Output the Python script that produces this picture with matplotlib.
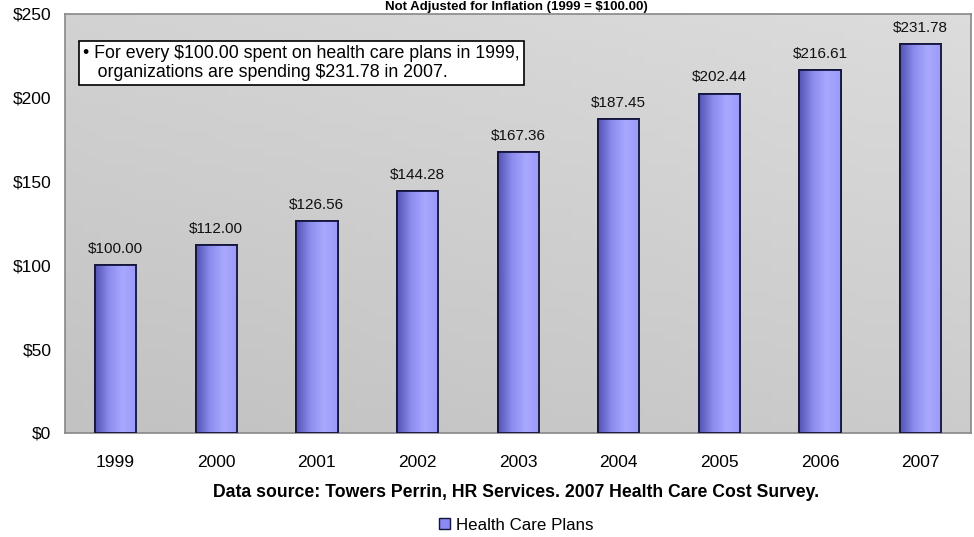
import numpy as np
import matplotlib.pyplot as plt
from matplotlib.colors import LinearSegmentedColormap
from matplotlib.patches import Patch

plt.rcParams['font.family'] = ['Liberation Sans', 'DejaVu Sans']

years = ['1999', '2000', '2001', '2002', '2003', '2004', '2005', '2006', '2007']
costs = [100.00, 112.00, 126.56, 144.28, 167.36, 187.45, 202.44, 216.61, 231.78]
yticks = [0, 50, 100, 150, 200, 250]

fig = plt.figure(figsize=(9.74, 5.37), dpi=100)
ax = fig.add_axes([0.067, 0.194, 0.930, 0.780])

x = np.arange(len(years))
ax.set_xlim(-0.5, len(years) - 0.5)

# gray backdrop, a bit lighter toward the bottom right
bg = LinearSegmentedColormap.from_list('bg', ['#c2c2c2', '#dcdcdc'])
grad = np.add.outer(np.linspace(0, 1, 50), np.linspace(0, 0.6, 50))
ax.imshow(grad, cmap=bg, extent=(-0.5, len(years) - 0.5, 250, 0),
          aspect='auto', zorder=0)
ax.set_ylim(0, 250)

bars = ax.bar(x, costs, width=0.41, color='#8a8af2', edgecolor='#14143c',
              linewidth=1.3, zorder=2)

# left-to-right shading on each bar
shade = LinearSegmentedColormap.from_list('shade', ['#5454b4', '#8c8cee', '#a8a8ff', '#9a9af8'])
hgrad = np.linspace(0, 1, 64).reshape(1, -1)
for b in bars:
    im = ax.imshow(hgrad, cmap=shade, aspect='auto', zorder=2.5,
                   extent=(b.get_x(), b.get_x() + b.get_width(), 0, b.get_height()))
    im.set_clip_path(b)
    ax.bar(b.get_x() + b.get_width() / 2, b.get_height(), width=b.get_width(),
           facecolor='none', edgecolor='#14143c', linewidth=1.3, zorder=3)

for xi, v in zip(x, costs):
    ax.text(xi, v + 5.5, f'${v:,.2f}', ha='center', va='bottom', fontsize=11, color='#111111')

ax.set_xticks(x)
ax.set_xticklabels(years, fontsize=12.5)
ax.set_yticks(yticks)
ax.set_yticklabels([f'${t}' for t in yticks], fontsize=12.5)
ax.tick_params(length=0, pad=16)
ax.tick_params(axis='y', pad=10)
for s in ax.spines.values():
    s.set_color('#888888')
    s.set_linewidth(1.2)

ax.text(0.02, 0.925,
        '\u2022 For every $100.00 spent on health care plans in 1999,\n'
        '   organizations are spending $231.78 in 2007.',
        transform=ax.transAxes, ha='left', va='top', fontsize=12.8, linespacing=1.1,
        bbox=dict(boxstyle='square,pad=0.25', facecolor='white', edgecolor='black', linewidth=1.2),
        zorder=5)

fig.text(0.53, 0.999, 'Not Adjusted for Inflation (1999 = $100.00)', ha='center', va='top',
         fontsize=9.5, fontweight='bold')
fig.text(0.53, 0.083, 'Data source: Towers Perrin, HR Services. 2007 Health Care Cost Survey.',
         ha='center', va='center', fontsize=12.7, fontweight='bold')

fig.legend(handles=[Patch(facecolor='#8a8af2', edgecolor='#14143c')], labels=['Health Care Plans'],
           loc='center', bbox_to_anchor=(0.53, 0.022), frameon=False, fontsize=12.2,
           handlelength=0.65, handleheight=0.65, handletextpad=0.3)

fig.savefig('out.png', dpi=100, facecolor='white')
